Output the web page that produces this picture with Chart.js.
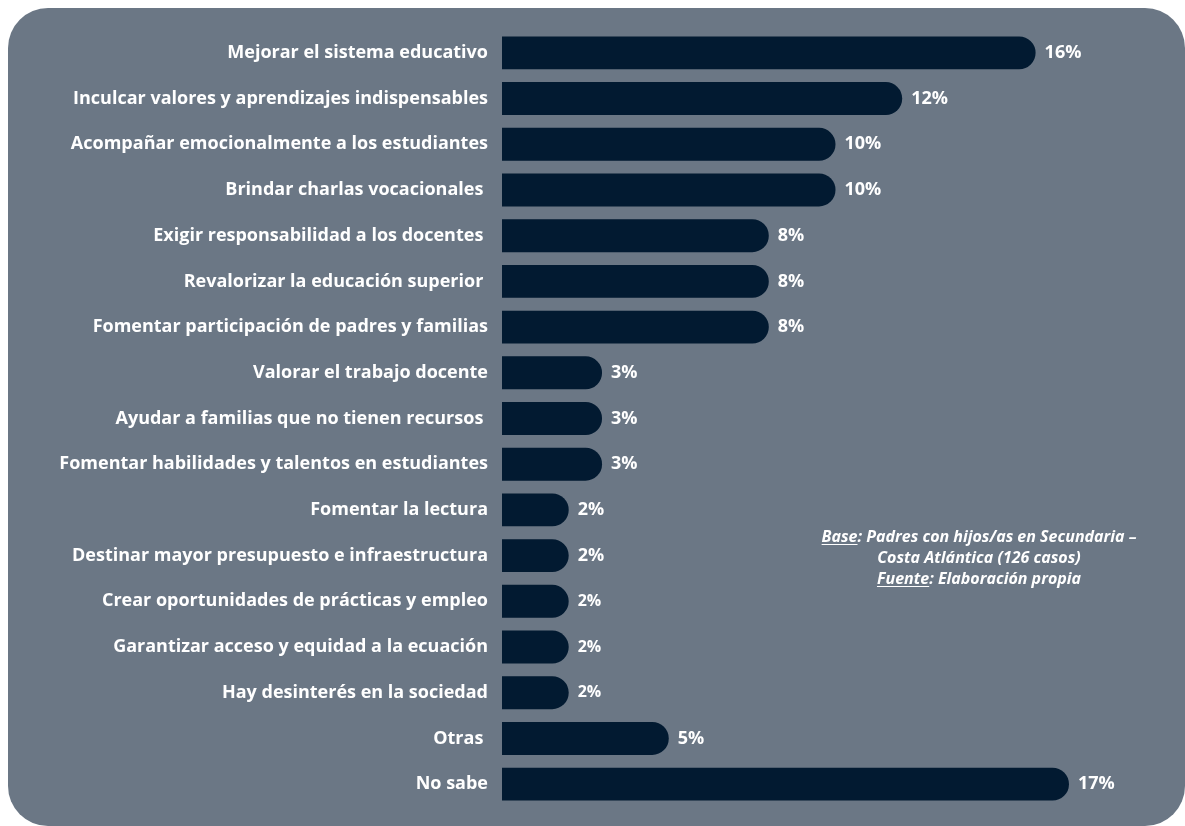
<!DOCTYPE html>
<html lang="es">
<head>
<meta charset="utf-8">
<script src="https://cdn.jsdelivr.net/npm/chart.js@4/dist/chart.umd.min.js"></script>
<style>
  html, body { margin: 0; padding: 0; background: #ffffff; }
  body { width: 1185px; height: 826px; position: relative; overflow: hidden; }
  #panel {
    position: absolute; left: 8px; top: 8px; width: 1177px; height: 818px;
    background: #6b7785; border-radius: 40px;
  }
  #wrap { position: absolute; left: 0; top: 0; width: 1185px; height: 826px; }
  #note {
    position: absolute; left: 729px; top: 526px; width: 500px;
    text-align: center; color: #ffffff;
    font: italic 700 16px "Open Sans", sans-serif; line-height: 21px;
  }
  #note u { text-underline-offset: 2px; }
</style>
</head>
<body>
<div id="panel"></div>
<div id="wrap"><canvas id="chart" width="1185" height="826"></canvas></div>
<div id="note">
  <u>Base</u>: Padres con hijos/as en Secundaria –<br>
  Costa Atlántica (126 casos)<br>
  <u>Fuente</u>: Elaboración propia
</div>
<script>
// Respuestas (categorías) y porcentajes
const categorias = [
  'Mejorar el sistema educativo',
  'Inculcar valores y aprendizajes indispensables',
  'Acompañar emocionalmente a los estudiantes',
  'Brindar charlas vocacionales ',
  'Exigir responsabilidad a los docentes ',
  'Revalorizar la educación superior ',
  'Fomentar participación de padres y familias',
  'Valorar el trabajo docente',
  'Ayudar a familias que no tienen recursos ',
  'Fomentar habilidades y talentos en estudiantes',
  'Fomentar la lectura',
  'Destinar mayor presupuesto e infraestructura',
  'Crear oportunidades de prácticas y empleo',
  'Garantizar acceso y equidad a la ecuación',
  'Hay desinterés en la sociedad',
  'Otras ',
  'No sabe'
];
const porcentajes = [16, 12, 10, 10, 8, 8, 8, 3, 3, 3, 2, 2, 2, 2, 2, 5, 17];

// Tamaño de letra de cada etiqueta de porcentaje
const tamanoEtiqueta = [18, 18, 18, 18, 18, 18, 18, 18, 18, 18, 18, 18, 16, 16, 16, 18, 18];

const FONT = '"Open Sans", sans-serif';

// Etiqueta de porcentaje a la derecha de cada barra
const etiquetasValor = {
  id: 'etiquetasValor',
  afterDatasetsDraw(chart) {
    const { ctx } = chart;
    const meta = chart.getDatasetMeta(0);
    ctx.save();
    ctx.fillStyle = '#ffffff';
    ctx.textAlign = 'left';
    ctx.textBaseline = 'middle';
    meta.data.forEach((bar, i) => {
      const v = chart.data.datasets[0].data[i];
      ctx.font = '700 ' + tamanoEtiqueta[i] + 'px ' + FONT;
      ctx.fillText(v + '%', bar.x + 9, bar.y);
    });
    ctx.restore();
  }
};

new Chart(document.getElementById('chart'), {
  type: 'bar',
  data: {
    labels: categorias,
    datasets: [{
      data: porcentajes,
      backgroundColor: '#021a31',
      borderRadius: 17,
      borderSkipped: 'start',
      barPercentage: 0.72,
      categoryPercentage: 1
    }]
  },
  options: {
    indexAxis: 'y',
    responsive: false,
    animation: false,
    layout: { padding: { top: 30, bottom: 19, right: 16, left: 0 } },
    plugins: { legend: { display: false }, tooltip: { enabled: false } },
    scales: {
      x: {
        min: 0, max: 20,
        display: false,
        grid: { display: false }
      },
      y: {
        grid: { display: false, drawTicks: false },
        border: { display: false },
        afterFit(scale) {
          scale.width = 502;
          scale.paddingTop = 0;
          scale.paddingBottom = 0;
        },
        ticks: {
          color: '#ffffff',
          padding: 14,
          font: { family: FONT, size: 18, weight: '700' }
        }
      }
    }
  },
  plugins: [etiquetasValor]
});
</script>
</body>
</html>
